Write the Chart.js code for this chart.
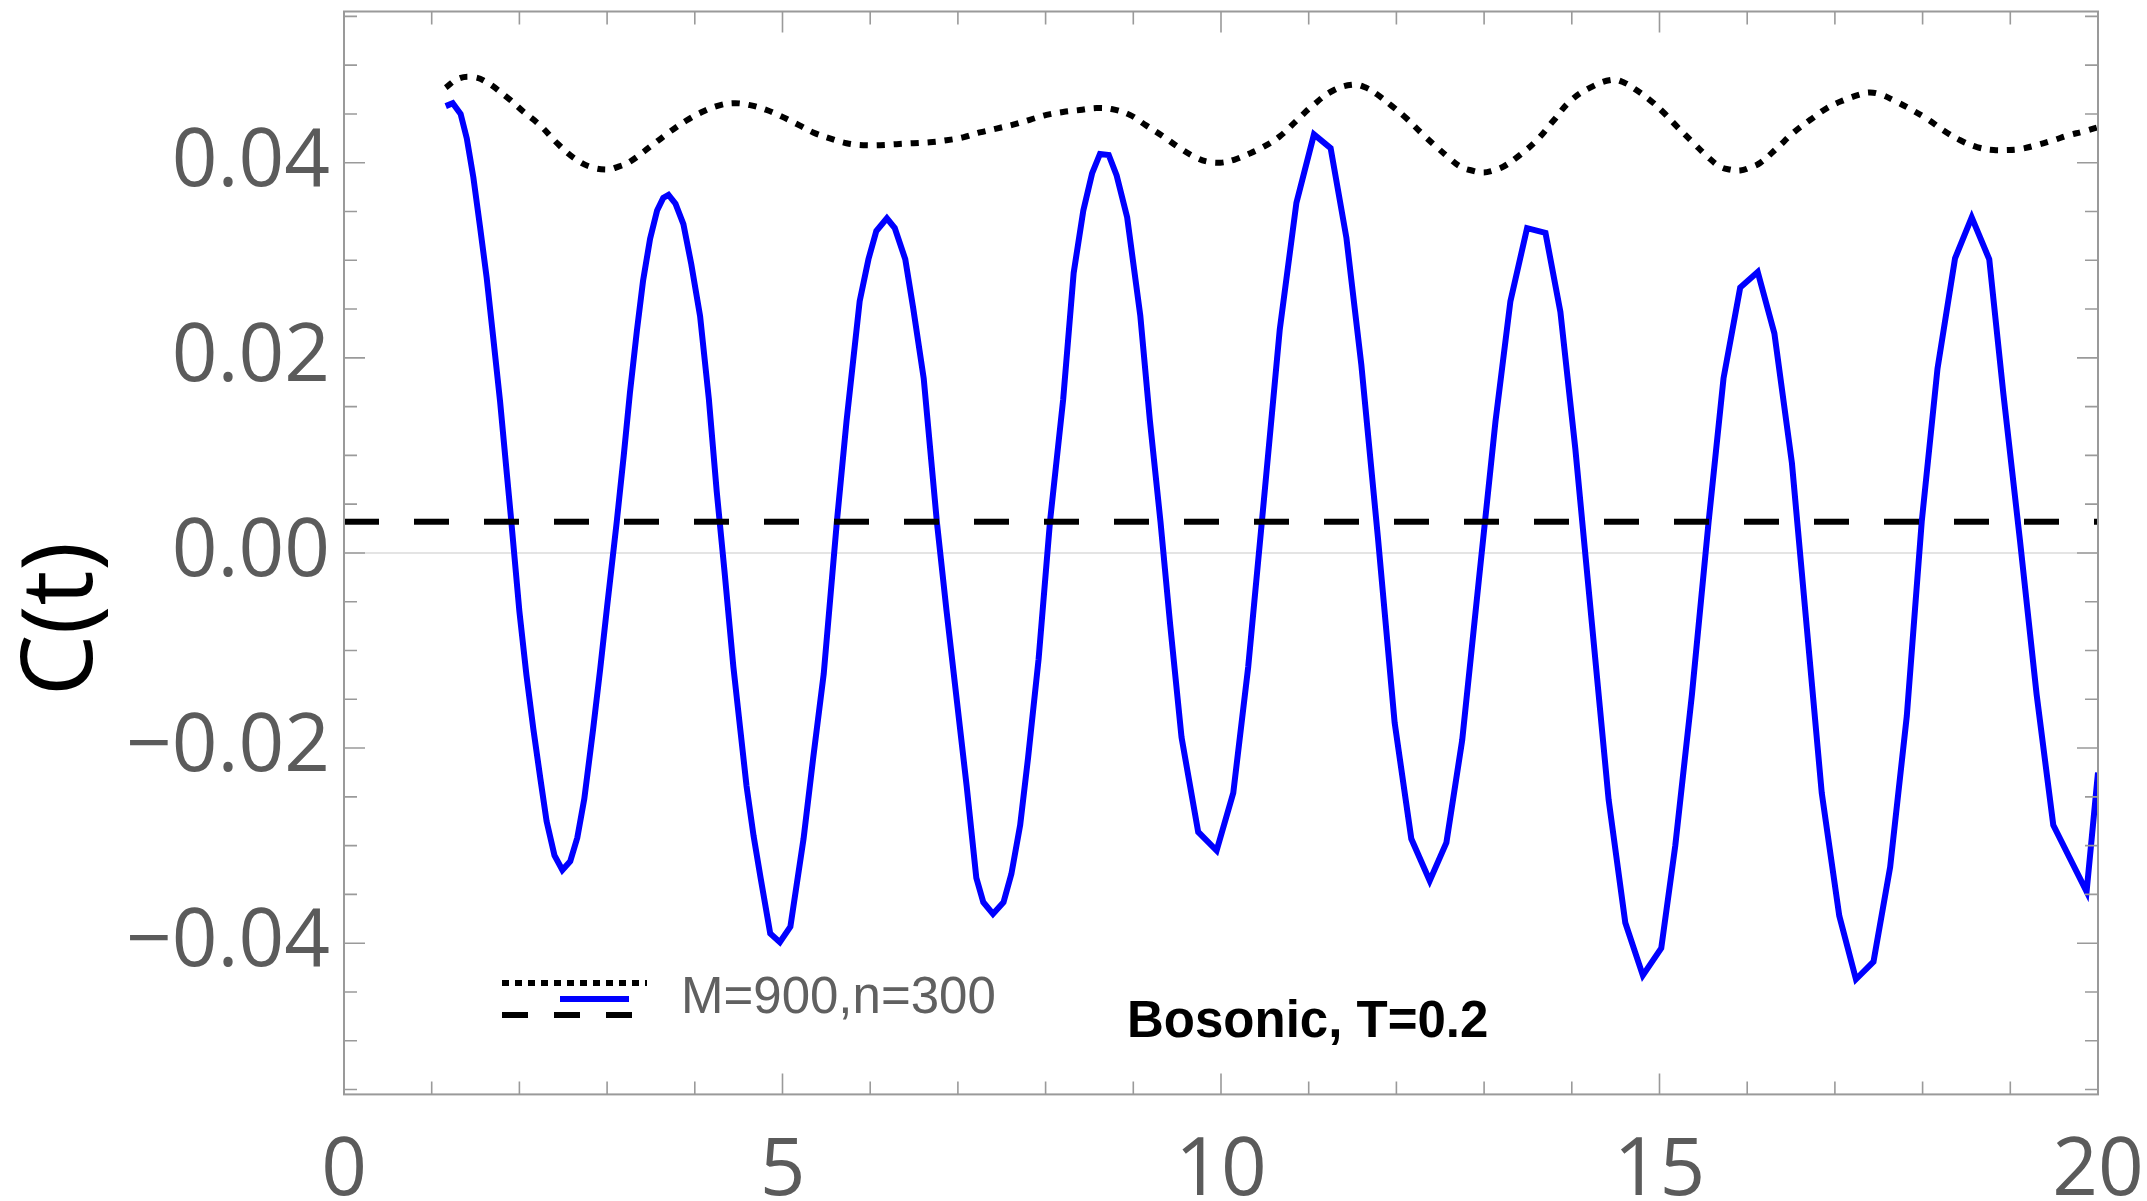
<!DOCTYPE html>
<html>
<head>
<meta charset="utf-8">
<script src="https://cdn.jsdelivr.net/npm/chart.js@4.4.1/dist/chart.umd.min.js"></script>
<style>
  html, body { margin: 0; padding: 0; background: #ffffff; overflow: hidden; }
  #wrap { width: 2147px; height: 1201px; position: relative; }
</style>
</head>
<body>
<div id="wrap"><canvas id="c" width="2147" height="1201"></canvas></div>
<script>
// Correlator C(t), M=900, n=300 (oscillating solid curve)
const tOsc = [
  1.16, 1.24, 1.33, 1.40, 1.475, 1.55, 1.627, 1.70, 1.78, 1.86,
  1.90, 2.00, 2.08, 2.16, 2.24, 2.31, 2.40, 2.49, 2.58, 2.66,
  2.74, 2.84, 2.92, 3.00, 3.11, 3.19, 3.26, 3.34, 3.41, 3.49,
  3.57, 3.64, 3.70, 3.78, 3.87, 3.96, 4.06, 4.16, 4.25, 4.34,
  4.44, 4.52, 4.59, 4.67, 4.75, 4.86, 4.97, 5.09, 5.24, 5.35,
  5.47, 5.62, 5.73, 5.88, 5.98, 6.07, 6.19, 6.28, 6.40, 6.49,
  6.61, 6.76, 6.87, 6.99, 7.10, 7.21, 7.29, 7.40, 7.52, 7.61,
  7.71, 7.80, 7.92, 8.05, 8.20, 8.32, 8.43, 8.53, 8.62, 8.72,
  8.81, 8.93, 9.08, 9.19, 9.31, 9.42, 9.55, 9.74, 9.95, 10.14,
  10.31, 10.49, 10.67, 10.86, 11.06, 11.25, 11.43, 11.60, 11.79, 11.98,
  12.17, 12.38, 12.57, 12.75, 12.94, 13.13, 13.30, 13.49, 13.70, 13.87,
  14.04, 14.23, 14.42, 14.61, 14.81, 15.02, 15.18, 15.37, 15.56, 15.73,
  15.92, 16.12, 16.31, 16.51, 16.68, 16.85, 17.05, 17.24, 17.44, 17.63,
  17.82, 17.99, 18.17, 18.37, 18.56, 18.76, 18.92, 19.11, 19.30, 19.49,
  19.68, 19.87, 20.00
];
const cOsc = [
  0.0458, 0.0461, 0.0450, 0.0425, 0.0385, 0.0335, 0.0282, 0.0222, 0.0155, 0.0078,
  0.0040, -0.0060, -0.0125, -0.0181, -0.0232, -0.0275, -0.0310, -0.0325, -0.0316, -0.0292,
  -0.0252, -0.0181, -0.0120, -0.0055, 0.0032, 0.0100, 0.0164, 0.0228, 0.0279, 0.0322,
  0.0351, 0.0364, 0.0367, 0.0358, 0.0337, 0.0296, 0.0243, 0.0158, 0.0063, -0.0020,
  -0.0117, -0.0182, -0.0239, -0.0290, -0.0333, -0.0390, -0.0399, -0.0383, -0.0293, -0.0210,
  -0.0124, 0.0032, 0.0135, 0.0258, 0.0301, 0.0330, 0.0343, 0.0333, 0.0301, 0.0251,
  0.0179, 0.0032, -0.0059, -0.0153, -0.0239, -0.0333, -0.0358, -0.0370, -0.0358, -0.0329,
  -0.0279, -0.0210, -0.0109, 0.0032, 0.0157, 0.0287, 0.0351, 0.0389, 0.0409, 0.0408,
  0.0387, 0.0344, 0.0243, 0.0135, 0.0032, -0.0073, -0.0189, -0.0286, -0.0305, -0.0246,
  -0.0117, 0.0055, 0.0229, 0.0359, 0.0429, 0.0415, 0.0323, 0.0193, 0.0015, -0.0174,
  -0.0293, -0.0336, -0.0297, -0.0192, -0.0028, 0.0135, 0.0258, 0.0333, 0.0328, 0.0247,
  0.0107, -0.0073, -0.0253, -0.0379, -0.0433, -0.0405, -0.0300, -0.0145, 0.0032, 0.0179,
  0.0272, 0.0288, 0.0225, 0.0092, -0.0077, -0.0246, -0.0372, -0.0437, -0.0419, -0.0322,
  -0.0167, 0.0032, 0.0189, 0.0302, 0.0344, 0.0301, 0.0164, 0.0013, -0.0145, -0.0279,
  -0.0313, -0.0347, -0.0225
];

// Envelope curve (dotted)
const tEnv = [
  1.16, 1.30, 1.45, 1.60, 1.86, 2.05, 2.24, 2.43, 2.62, 2.80,
  3.00, 3.13, 3.26, 3.50, 3.72, 3.90, 4.06, 4.25, 4.44, 4.63,
  4.82, 5.00, 5.20, 5.35, 5.54, 5.73, 5.92, 6.11, 6.30, 6.49,
  6.68, 6.87, 7.06, 7.25, 7.44, 7.63, 7.82, 8.01, 8.20, 8.39,
  8.58, 8.75, 8.96, 9.15, 9.34, 9.53, 9.72, 9.85, 9.99, 10.15,
  10.29, 10.48, 10.67, 10.86, 11.05, 11.28, 11.51, 11.65, 11.78, 11.95,
  12.12, 12.29, 12.46, 12.60, 12.73, 12.86, 12.99, 13.10, 13.22, 13.41,
  13.60, 13.79, 13.98, 14.21, 14.46, 14.60, 14.71, 14.88, 15.04, 15.20,
  15.39, 15.55, 15.69, 15.80, 15.92, 16.03, 16.15, 16.34, 16.53, 16.72,
  16.91, 17.10, 17.29, 17.40, 17.52, 17.67, 17.86, 18.05, 18.24, 18.43,
  18.62, 18.81, 18.96, 19.11, 19.30, 19.49, 19.66, 19.83, 20.06
];
const cEnv = [
  0.0477, 0.0486, 0.0488, 0.0484, 0.0467, 0.0452, 0.0438, 0.0420, 0.0405, 0.0396,
  0.0393, 0.0396, 0.0401, 0.0417, 0.0432, 0.0443, 0.0451, 0.0458, 0.0461, 0.0459,
  0.0454, 0.0447, 0.0438, 0.0431, 0.0425, 0.0420, 0.0418, 0.0418, 0.0419, 0.0420,
  0.0421, 0.0423, 0.0426, 0.0431, 0.0435, 0.0439, 0.0444, 0.0449, 0.0452, 0.0454,
  0.0456, 0.0455, 0.0449, 0.0438, 0.0427, 0.0415, 0.0405, 0.0401, 0.0400, 0.0403,
  0.0408, 0.0416, 0.0427, 0.0443, 0.0459, 0.0474, 0.0480, 0.0477, 0.0470, 0.0458,
  0.0445, 0.0430, 0.0416, 0.0405, 0.0396, 0.0392, 0.0390, 0.0392, 0.0396, 0.0408,
  0.0423, 0.0443, 0.0463, 0.0477, 0.0485, 0.0482, 0.0476, 0.0465, 0.0452, 0.0437,
  0.0420, 0.0406, 0.0396, 0.0393, 0.0392, 0.0395, 0.0400, 0.0415, 0.0431, 0.0444,
  0.0456, 0.0464, 0.0470, 0.0472, 0.0470, 0.0464, 0.0455, 0.0445, 0.0433, 0.0423,
  0.0416, 0.0413, 0.0413, 0.0414, 0.0418, 0.0423, 0.0428, 0.0432, 0.0438
];

// Constant level (dashed)
const tLevel = [0, 20];
const cLevel = [0.0032, 0.0032];

// Axes
const xRange = [0, 20];
const yRange = [-0.0555, 0.0555];
const xTickLabels = [0, 5, 10, 15, 20];
const yTickLabels = [-0.04, -0.02, 0.00, 0.02, 0.04];
const xMinorStep = 1;
const yMinorStep = 0.005;

// Texts
const seriesLabel = 'M=900,n=300';
const panelNote = 'Bosonic, T=0.2';
const yTitle = 'C(t)';

const TICK_FONT = '"Open Sans", "Noto Sans", sans-serif';
const FRAME_COLOR = '#9a9a9a';
const TICK_COLOR = '#5b5b5b';

const pts = (xs, ys) => xs.map((x, i) => ({ x: x, y: ys[i] }));

function fmtY(v) {
  if (Math.abs(v) < 1e-12) return '0.00';
  return (v < 0 ? '\u2212' : '') + Math.abs(v).toFixed(2);
}

const framePlugin = {
  id: 'frameTicks',
  beforeDatasetsDraw(chart) {
    const { ctx, chartArea: a, scales: { y } } = chart;
    const y0 = y.getPixelForValue(0);
    ctx.save();
    ctx.strokeStyle = '#e4e4e4';
    ctx.lineWidth = 2;
    ctx.beginPath();
    ctx.moveTo(a.left, y0);
    ctx.lineTo(a.right, y0);
    ctx.stroke();
    ctx.restore();
  },
  afterDatasetsDraw(chart) {
    const { ctx, chartArea: a, scales: { x, y } } = chart;
    ctx.save();
    ctx.strokeStyle = FRAME_COLOR;
    ctx.lineWidth = 2;
    ctx.strokeRect(a.left, a.top, a.right - a.left, a.bottom - a.top);
    ctx.lineWidth = 1.6;
    ctx.beginPath();
    // x ticks (inward, bottom and top)
    const nx = Math.round((xRange[1] - xRange[0]) / xMinorStep);
    for (let i = 0; i <= nx; i++) {
      const v = xRange[0] + i * xMinorStep;
      const px = x.getPixelForValue(v);
      const len = xTickLabels.includes(v) ? 21 : 13;
      ctx.moveTo(px, a.bottom); ctx.lineTo(px, a.bottom - len);
      ctx.moveTo(px, a.top); ctx.lineTo(px, a.top + len);
    }
    // y ticks (inward, left and right)
    const kMax = Math.floor(yRange[1] / yMinorStep + 1e-9);
    for (let k = -kMax; k <= kMax; k++) {
      const v = k * yMinorStep;
      const py = y.getPixelForValue(v);
      const len = (k % 4 === 0) ? 21 : 13;
      ctx.moveTo(a.left, py); ctx.lineTo(a.left + len, py);
      ctx.moveTo(a.right, py); ctx.lineTo(a.right - len, py);
    }
    ctx.stroke();
    ctx.restore();
  },
  afterDraw(chart) {
    const { ctx } = chart;
    ctx.save();
    // legend samples
    ctx.lineCap = 'butt';
    ctx.strokeStyle = '#000';
    ctx.lineWidth = 6;
    ctx.setLineDash([7, 6]);
    ctx.beginPath(); ctx.moveTo(502, 983); ctx.lineTo(647, 983); ctx.stroke();
    ctx.setLineDash([26, 26]);
    ctx.lineWidth = 6;
    ctx.beginPath(); ctx.moveTo(502, 1015); ctx.lineTo(633, 1015); ctx.stroke();
    ctx.setLineDash([]);
    ctx.strokeStyle = '#0000ff';
    ctx.lineWidth = 6;
    ctx.beginPath(); ctx.moveTo(560, 999); ctx.lineTo(629, 999); ctx.stroke();

    ctx.textAlign = 'left';
    ctx.textBaseline = 'alphabetic';
    ctx.fillStyle = '#606060';
    ctx.font = '51px "Liberation Sans", Arial, sans-serif';
    ctx.fillText(seriesLabel, 681, 1013);

    ctx.fillStyle = '#000';
    ctx.font = 'bold 51px "Liberation Sans", Arial, sans-serif';
    ctx.fillText(panelNote, 1127, 1037);

    // y axis title
    ctx.translate(64, 619);
    ctx.rotate(-Math.PI / 2);
    ctx.textAlign = 'center';
    ctx.textBaseline = 'middle';
    ctx.font = '98px ' + TICK_FONT;
    ctx.fillStyle = '#000';
    ctx.fillText(yTitle, 0, 0);
    ctx.restore();
  }
};

new Chart(document.getElementById('c'), {
  type: 'scatter',
  data: {
    datasets: [
      {
        data: pts(tLevel, cLevel),
        showLine: true, borderColor: '#000000', borderWidth: 6,
        borderDash: [35, 35], borderCapStyle: 'butt',
        pointRadius: 0, tension: 0
      },
      {
        data: pts(tEnv, cEnv),
        showLine: true, borderColor: '#000000', borderWidth: 6,
        borderDash: [8, 9], borderCapStyle: 'butt',
        pointRadius: 0, tension: 0.4
      },
      {
        data: pts(tOsc, cOsc),
        showLine: true, borderColor: '#0000ff', borderWidth: 6,
        borderJoinStyle: 'miter',
        pointRadius: 0, tension: 0
      }
    ]
  },
  options: {
    responsive: false,
    animation: false,
    devicePixelRatio: 1,
    layout: { padding: { top: 11.5, right: 49, bottom: 0, left: 0 } },
    plugins: { legend: { display: false }, tooltip: { enabled: false } },
    scales: {
      x: {
        type: 'linear', min: xRange[0], max: xRange[1],
        grid: { display: false, drawTicks: false },
        border: { display: false },
        afterBuildTicks: s => { s.ticks = xTickLabels.map(v => ({ value: v })); },
        ticks: {
          autoSkip: false, maxRotation: 0, padding: 30,
          font: { family: TICK_FONT, size: 80 }, color: TICK_COLOR,
          callback: v => String(v)
        },
        afterFit: s => { s.height = 106.6; s.paddingLeft = 0; s.paddingRight = 0; }
      },
      y: {
        type: 'linear', min: yRange[0], max: yRange[1],
        grid: { display: false, drawTicks: false },
        border: { display: false },
        afterBuildTicks: s => { s.ticks = yTickLabels.map(v => ({ value: v })); },
        ticks: {
          autoSkip: false, padding: 14,
          font: { family: TICK_FONT, size: 80 }, color: TICK_COLOR,
          callback: v => fmtY(v)
        },
        afterFit: s => { s.width = 344; s.paddingTop = 0; s.paddingBottom = 0; }
      }
    }
  },
  plugins: [framePlugin]
});
</script>
</body>
</html>
